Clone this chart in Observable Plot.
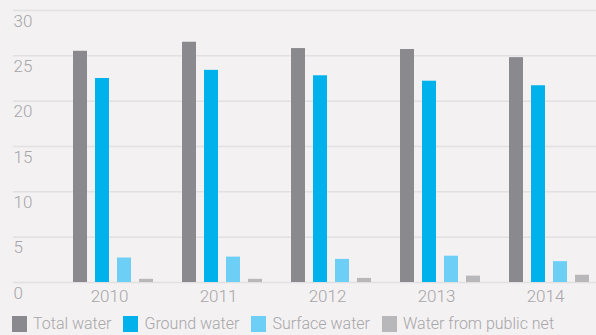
<!DOCTYPE html>
<html>
<head>
<meta charset="utf-8">
<script src="https://cdn.jsdelivr.net/npm/d3@7"></script>
<script src="https://cdn.jsdelivr.net/npm/@observablehq/plot@0.6"></script>
<style>
  html, body { margin: 0; padding: 0; background: #f3f1f2; }
  body { width: 596px; height: 335px; overflow: hidden; font-family: Roboto, "Noto Sans", sans-serif; }
  #chart { position: relative; width: 596px; height: 308px; }
  #chart svg { display: block; position: absolute; left: 0; top: 0; }
  #legend { margin: 6px 0 0 12px; }
  body .wl-swatches { font-family: Roboto, sans-serif !important; font-size: 16px !important; font-weight: 300; color: #a7a6a8; min-height: 0 !important; margin: 0 !important; flex-wrap: nowrap !important; white-space: nowrap; }
  body .wl-swatch { margin-right: 12px !important; }
  body .wl-swatch > svg { margin-right: 6px !important; }
</style>
</head>
<body>
<div id="chart"></div>
<div id="legend"></div>
<script>
// Water withdrawal by source, millions of m³
const years = ["2010", "2011", "2012", "2013", "2014"];
const series = ["Total water", "Ground water", "Surface water", "Water from public net"];
const totalWater   = [25.5, 26.5, 25.8, 25.7, 24.8];
const groundWater  = [22.5, 23.4, 22.8, 22.2, 21.7];
const surfaceWater = [2.7, 2.8, 2.55, 2.9, 2.3];
const publicNet    = [0.35, 0.35, 0.45, 0.7, 0.8];
const yTicks = [0, 5, 10, 15, 20, 25, 30];
const colors = ["#8a898e", "#00b2ec", "#6dcff6", "#b8b7b9"];

const valuesBySeries = [totalWater, groundWater, surfaceWater, publicNet];
const data = years.flatMap((year, i) =>
  series.map((s, j) => ({year, series: s, value: valuesBySeries[j][i]}))
);

const textColor = "#a7a6a8";
const frame = {width: 596, height: 308, marginTop: 10, marginLeft: 13, marginRight: 0, marginBottom: 26};
const font = {fontFamily: "Roboto, sans-serif", fontWeight: 300, fontSize: "17px", color: textColor};

// Layer 1: full-width horizontal grid and value labels
const grid = Plot.plot({
  ...frame,
  style: {...font, background: "#f3f1f2"},
  x: {axis: null},
  y: {domain: [0, 30], axis: null},
  marks: [
    Plot.ruleY(yTicks, {y: d => d, stroke: "#e2e0e1", strokeWidth: 1.5}),
    Plot.text(yTicks, {y: d => d, text: d => String(d), frameAnchor: "left", textAnchor: "start", lineAnchor: "top", dy: 4, fill: textColor, fontSize: 17})
  ]
});

// Layer 2: grouped bars, one facet per year
const bars = Plot.plot({
  ...frame,
  style: {...font, background: "transparent"},
  fx: {domain: years, paddingInner: 0.2655, paddingOuter: 0.302, align: 0.894, label: null},
  x: {domain: series, paddingInner: 0.364, paddingOuter: 0, axis: null},
  y: {domain: [0, 30], axis: null},
  color: {domain: series, range: colors},
  marks: [
    Plot.barY(data, {fx: "year", x: "series", y: "value", fill: "series"}),
    Plot.axisFx({anchor: "bottom", tickSize: 0, tickPadding: 7, dx: -4, fill: textColor, fontSize: 17, label: null})
  ]
});

document.getElementById("chart").append(grid, bars);

const legend = Plot.legend({
  color: {domain: series, range: colors},
  legend: "swatches",
  swatchWidth: 15,
  swatchHeight: 16,
  className: "wl"
});
document.getElementById("legend").append(legend);
</script>
</body>
</html>
